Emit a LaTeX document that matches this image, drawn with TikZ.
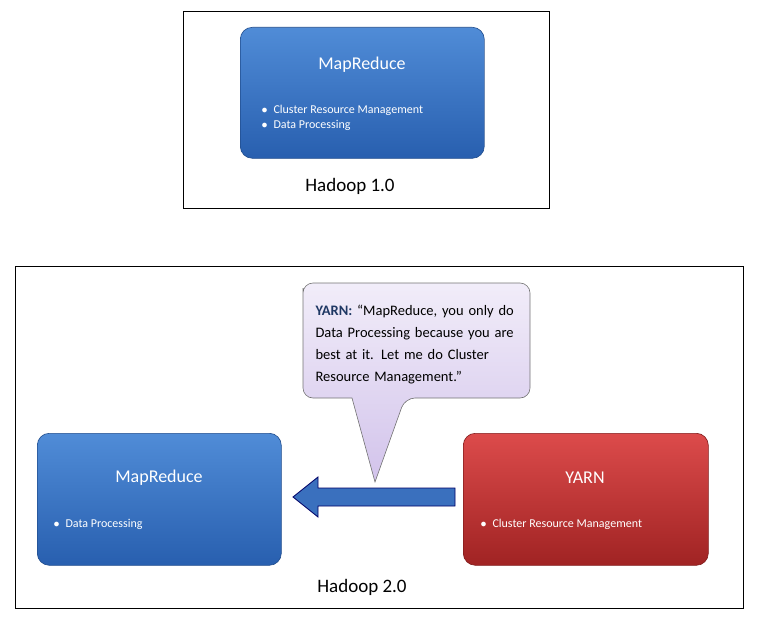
\documentclass[tikz,border=0pt]{standalone}
\usepackage{fontspec}
\setmainfont{Carlito}
\definecolor{btop}{RGB}{80,140,215}
\definecolor{bbot}{RGB}{40,95,175}
\definecolor{rtop}{RGB}{220,75,75}
\definecolor{rbot}{RGB}{160,35,35}
\definecolor{bblue}{RGB}{58,112,190}
\definecolor{callout}{RGB}{210,195,235}
\begin{document}
\begin{tikzpicture}[x=1pt,y=-1pt,
  frame/.style={draw=black,line width=1pt},
  blue box/.style={draw=bbot!80!black,rounded corners=12pt,top color=btop,bottom color=bbot,line width=0.6pt},
  red box/.style={draw=rbot!80!black,rounded corners=12pt,top color=rtop,bottom color=rbot,line width=0.6pt},
  title/.style={text=white,font=\fontsize{18}{20}\selectfont},
  bul/.style={text=white,font=\fontsize{12}{15}\selectfont,anchor=west,align=left},
  hcap/.style={font=\fontsize{19}{21}\selectfont}]
\useasboundingbox (0,0) rectangle (778,618);
% top
\draw[frame] (183,12) rectangle (549,208);
\node[blue box,minimum width=244pt,minimum height=131pt,anchor=north west] (mr1) at (240,27) {};
\node[title] (t1) at (362,65) {MapReduce};
\node[bul] (b1) at (258,118) {$\bullet$\hspace{6pt}Cluster Resource Management\\$\bullet$\hspace{6pt}Data Processing};
\node[hcap] (h1) at (350,186) {Hadoop 1.0};
% bottom
\draw[frame] (15,266) rectangle (743,608);
\node[blue box,minimum width=244pt,minimum height=132pt,anchor=north west] (mr2) at (37,433) {};
\node[title] (t2) at (159,478) {MapReduce};
\node[bul] (b2) at (50,524) {$\bullet$\hspace{6pt}Data Processing};
\node[red box,minimum width=245pt,minimum height=132pt,anchor=north west] (yarn) at (463,433) {};
\node[title] (t3) at (585,478) {YARN};
\node[bul] (b3) at (477,524) {$\bullet$\hspace{6pt}Cluster Resource Management};
% arrow
\draw[draw=blue!40!black,fill=bblue,line width=0.8pt] (455,488) -- (318,488) -- (318,477) -- (293,497) -- (318,517) -- (318,506) -- (455,506) -- cycle;
% callout
\draw[draw=black!55,top color=callout!30!white,bottom color=callout,line width=0.6pt,rounded corners=10pt]
  (303,298) -- (303,283) -- (530,283) -- (530,398) -- (405,398) [sharp corners]-- (375,482) -- (352,398) [rounded corners=10pt]-- (303,398) -- cycle;
\node[anchor=north west,align=left,font=\fontsize{14.5}{22}\selectfont,text width=210pt] (ct) at (312,302)
 {\textbf{\color[RGB]{31,56,100}YARN:} “MapReduce, you only do\\Data Processing because you are\\best at it. Let me do Cluster\\Resource Management.”};
\node[hcap] (h2) at (362,587) {Hadoop 2.0};
\end{tikzpicture}
\end{document}
